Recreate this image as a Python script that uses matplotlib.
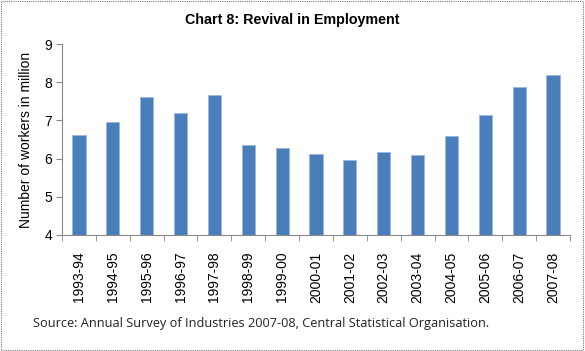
import matplotlib
matplotlib.use("Agg")
import matplotlib.pyplot as plt
from matplotlib.patches import Rectangle
import numpy as np

years = ["1993-94", "1994-95", "1995-96", "1996-97", "1997-98", "1998-99", "1999-00",
         "2000-01", "2001-02", "2002-03", "2003-04", "2004-05", "2005-06", "2006-07", "2007-08"]
workers = [6.63, 6.97, 7.62, 7.20, 7.66, 6.36, 6.29, 6.13, 5.96, 6.16, 6.09, 6.60, 7.14, 7.87, 8.20]
yticks = [4, 5, 6, 7, 8, 9]

plt.rcParams['font.family'] = ['Liberation Sans', 'DejaVu Sans']

fig = plt.figure(figsize=(5.85, 3.51), dpi=100)
ax = fig.add_axes([62/585, 1-235/351, (570-62)/585, (235-44)/351])

x = np.arange(len(years))
ax.bar(x, workers, width=0.39, bottom=0, color='#4a7ebb', edgecolor='#9bb7dd', linewidth=0.6)

ax.set_xlim(-0.5, len(years) - 0.5)
ax.set_ylim(4, 9)
ax.set_yticks(yticks)
ax.set_yticklabels([str(t) for t in yticks], fontsize=10)
ax.set_xticks(x)
ax.set_xticklabels(years, rotation=90, fontsize=10)
ax.tick_params(axis='x', length=0, pad=12)
ax.set_xticks(np.arange(-0.5, len(years)), minor=True)
ax.tick_params(axis='x', which='minor', length=4, color='#888888', direction='out')
ax.tick_params(axis='y', length=4, color='#888888', direction='out', pad=3)

for s in ['top', 'right']:
    ax.spines[s].set_visible(False)
for s in ['left', 'bottom']:
    ax.spines[s].set_color('#888888')
    ax.spines[s].set_linewidth(0.8)

ax.set_ylabel("Number of workers in million", fontsize=10, labelpad=8)

fig.text(292/585, 1-20/351, "Chart 8: Revival in Employment", ha='center', va='center',
         fontsize=10.3, fontweight='bold')
fig.text(33/585, 1-323/351, "Source: Annual Survey of Industries 2007-08, Central Statistical Organisation.",
         ha='left', va='center', fontsize=9.15, family=['Open Sans', 'DejaVu Sans'], color='#222222')

fig.patches.append(Rectangle((0.002, 0.003), 0.995, 0.993, transform=fig.transFigure,
                             fill=False, edgecolor='#777777', linestyle=(0, (1, 1)), linewidth=0.8))

fig.savefig("out.png", dpi=100)
